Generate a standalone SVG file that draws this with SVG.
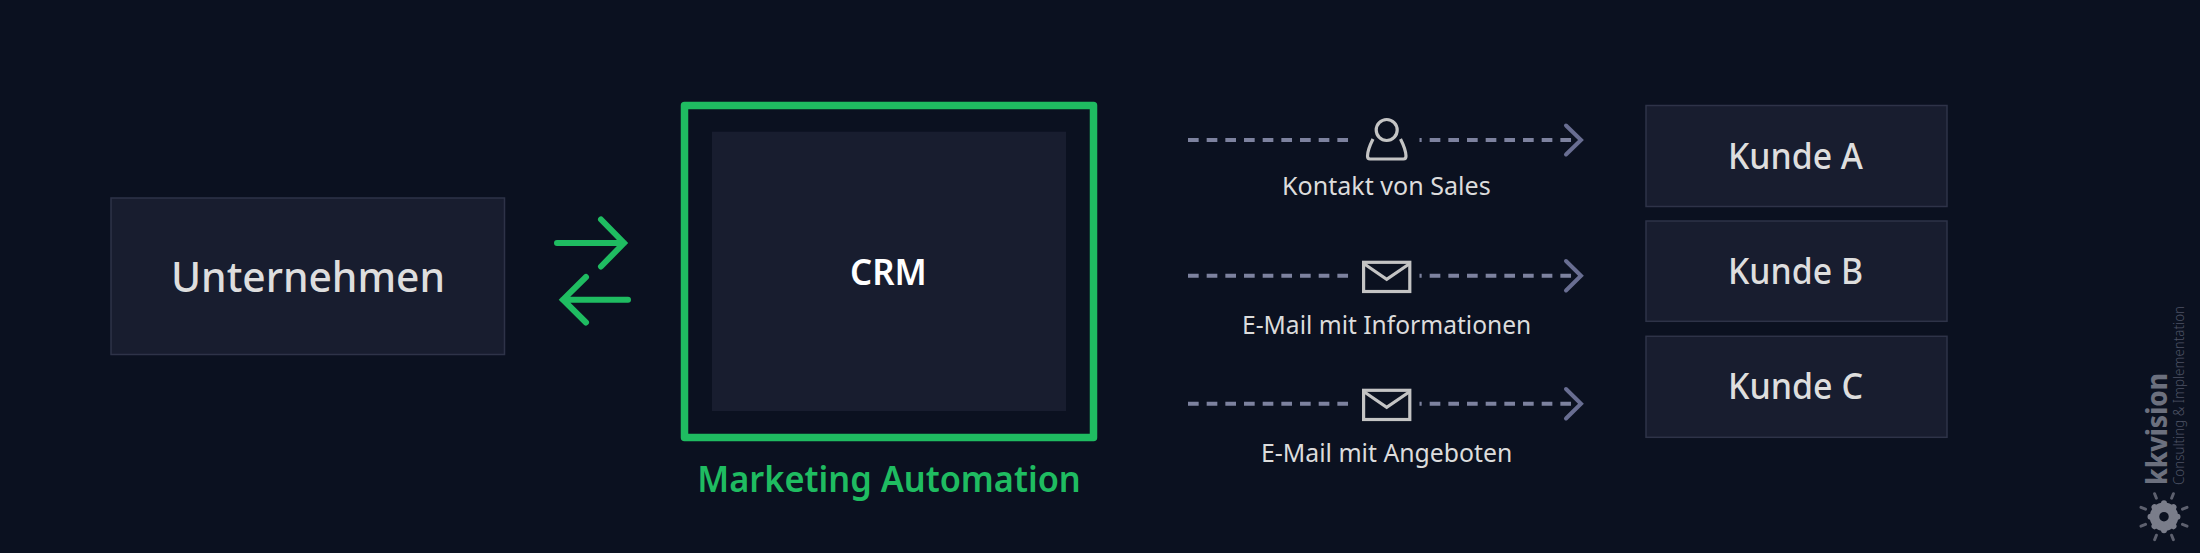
<svg xmlns="http://www.w3.org/2000/svg" width="2200" height="553" viewBox="0 0 2200 553">
<defs>
<style>
text{font-family:"Noto Sans","Liberation Sans",sans-serif;text-anchor:start}
.box{fill:#181d2f;stroke:#2e3348;stroke-width:1.5}
.lbl{fill:#dedede;font-size:36px;font-weight:500}
.sm{fill:#dcdcdc;font-size:25px}
.dash{stroke:#7d829f;stroke-width:4;stroke-linecap:butt;stroke-dasharray:10.67 8;fill:none}
.head{stroke:#696e92;stroke-width:4;stroke-linecap:round;stroke-linejoin:miter;fill:none}
.ico{stroke:#c4c4c4;stroke-width:3.2;fill:none}
.grn{stroke:#1fbc61;stroke-width:6;stroke-linecap:round;stroke-linejoin:miter;fill:none}
</style>
<g id="env"><rect class="ico" x="1363.6" y="0" width="46.2" height="29.2"/><path class="ico" d="M1364 1.5L1386.7 17L1409.5 1.5"/></g>
</defs>
<rect width="2200" height="553" fill="#0b1120"/>
<g id="connectors">
<path class="grn" d="M557 243H624M601 219.500L624 243L601 266.500"/>
<path class="grn" d="M628 299.700H563M586 277L563 299.700L586 322.500"/>
<line class="dash" x1="1188" y1="140" x2="1349" y2="140"/>
<line class="dash" x1="1419.500" y1="140" x2="1580" y2="140" stroke-dashoffset="8.500"/>
<path class="head" d="M1566 125.500L1581 140L1566 154.500"/>
<line class="dash" x1="1188" y1="275.700" x2="1349" y2="275.700"/>
<line class="dash" x1="1419.500" y1="275.700" x2="1580" y2="275.700" stroke-dashoffset="8.500"/>
<path class="head" d="M1566 261L1581 275.700L1566 290.500"/>
<line class="dash" x1="1188" y1="403.700" x2="1349" y2="403.700"/>
<line class="dash" x1="1419.500" y1="403.700" x2="1580" y2="403.700" stroke-dashoffset="8.500"/>
<path class="head" d="M1566 389L1581 403.700L1566 418.500"/>
</g>
<g id="unternehmen"><rect class="box" x="111" y="198" width="393.500" height="156.500"/><text class="lbl" x="171" y="292" style="font-size:42px" textLength="274" lengthAdjust="spacingAndGlyphs">Unternehmen</text></g>
<g id="marketing-automation"><rect x="684.500" y="105.500" width="409" height="332" fill="none" stroke="#1fbc61" stroke-width="7.500" stroke-linejoin="round"/><text x="697.300" y="491.700" fill="#1fbc61" style="font-size:36px;font-weight:600" textLength="383.500" lengthAdjust="spacingAndGlyphs">Marketing Automation</text></g>
<g id="crm"><rect x="712" y="131.700" width="354" height="279.300" fill="#181d2f"/><text x="850" y="284.700" fill="#fff" style="font-size:36px;font-weight:600" textLength="76.700" lengthAdjust="spacingAndGlyphs">CRM</text></g>
<g id="kontakt"><circle class="ico" cx="1386.700" cy="130" r="10.500"/><path class="ico" d="M1373 139C1370 145 1367.500 150 1367.500 156Q1367.500 159 1370 159H1403.500Q1406 159 1406 156C1406 150 1403.500 145 1400.500 139"/><text class="sm" x="1282" y="195.300" textLength="208.700" lengthAdjust="spacingAndGlyphs">Kontakt von Sales</text></g>
<g id="email-info"><use href="#env" y="262.300"/><text class="sm" x="1242" y="333.700" textLength="289.300" lengthAdjust="spacingAndGlyphs">E-Mail mit Informationen</text></g>
<g id="email-angebot"><use href="#env" y="390.300"/><text class="sm" x="1261" y="461.700" textLength="251.300" lengthAdjust="spacingAndGlyphs">E-Mail mit Angeboten</text></g>
<g id="kunde-a"><rect class="box" x="1646" y="105.500" width="301" height="101"/><text class="lbl" x="1728" y="169" textLength="135" lengthAdjust="spacingAndGlyphs">Kunde A</text></g>
<g id="kunde-b"><rect class="box" x="1646" y="221" width="301" height="100.300"/><text class="lbl" x="1728" y="284" textLength="135" lengthAdjust="spacingAndGlyphs">Kunde B</text></g>
<g id="kunde-c"><rect class="box" x="1646" y="336.300" width="301" height="101"/><text class="lbl" x="1728" y="399" textLength="135" lengthAdjust="spacingAndGlyphs">Kunde C</text></g>
<g id="logo">
<text transform="translate(2167 485) rotate(-90)" fill="#6c707e" style="font-size:28px;font-weight:800" textLength="112" lengthAdjust="spacingAndGlyphs">kkvision</text>
<text transform="translate(2184 485) rotate(-90)" fill="#4d5264" style="font-size:14.500px;font-weight:300" textLength="179" lengthAdjust="spacingAndGlyphs">Consulting &amp; Implementation</text>
<g transform="translate(2164 516.700)">
<circle r="9.500" fill="none" stroke="#7a7d8a" stroke-width="9.500"/>
<path stroke="#7a7d8a" stroke-width="6" stroke-linecap="round" fill="none" d="M0 -11V-13.500M0 11V13.500M-11 0H-13.500M11 0H13.500M-8 -8L-9.500 -9.500M8 -8L9.500 -9.500M-8 8L-9.500 9.500M8 8L9.500 9.500"/>
<path stroke="#5d606e" stroke-width="3" stroke-linecap="round" fill="none" d="M7.600 -18.500L9.400 -23M-7.600 -18.500L-9.400 -23M7.600 18.500L9.400 23M-7.600 18.500L-9.400 23M18.500 -7.600L23 -9.400M-18.500 -7.600L-23 -9.400M18.500 7.600L23 9.400M-18.500 7.600L-23 9.400"/>
</g>
</g>
</svg>
